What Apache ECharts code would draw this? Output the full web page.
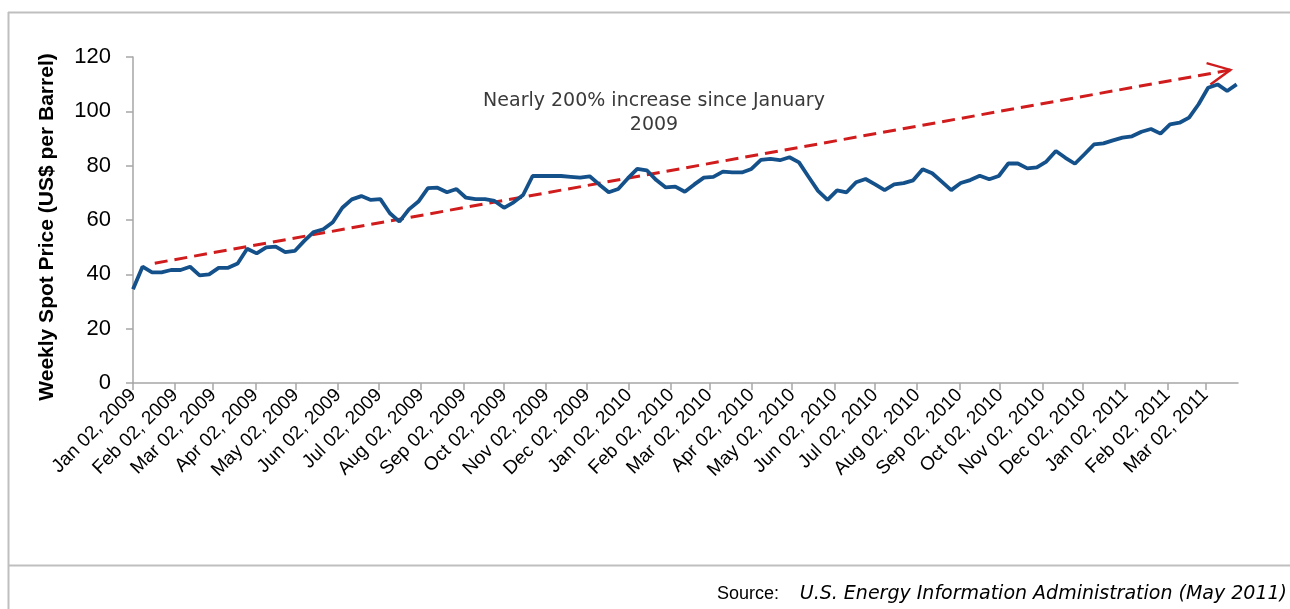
<!DOCTYPE html>
<html>
<head>
<meta charset="utf-8">
<script src="https://cdn.jsdelivr.net/npm/echarts@6/dist/echarts.min.js"></script>
<style>
html,body{margin:0;padding:0;background:#fff;}
#c{width:1290px;height:609px;}
</style>
</head>
<body>
<div id="c"></div>
<script>
// ---- data ----
const firstWeek = '2009-01-02';   // first weekly observation
const weekStepDays = 7;
const prices = [
  34.5, 42.8, 40.7, 40.7, 41.6, 41.6, 42.8, 39.6, 40.0, 42.4,
  42.4, 44.0, 49.4, 47.7, 49.9, 50.2, 48.2, 48.6, 52.3, 55.6,
  56.6, 59.2, 64.5, 67.6, 68.8, 67.4, 67.7, 62.5, 59.4, 63.9,
  66.8, 71.7, 71.9, 70.2, 71.4, 68.2, 67.7, 67.7, 67.0, 64.5,
  66.5, 69.2, 76.2, 76.2, 76.2, 76.2, 75.9, 75.6, 76.1, 73.1,
  70.2, 71.4, 75.3, 78.8, 78.3, 74.7, 72.0, 72.3, 70.4, 73.1,
  75.6, 75.9, 77.8, 77.5, 77.5, 78.8, 82.1, 82.5, 82.0, 83.1,
  81.2, 75.9, 70.7, 67.4, 70.9, 70.2, 73.9, 75.1, 73.1, 71.0,
  73.1, 73.6, 74.6, 78.7, 77.2, 74.1, 71.0, 73.6, 74.7, 76.3,
  75.0, 76.2, 80.8, 80.8, 79.0, 79.4, 81.5, 85.4, 82.9, 80.7,
  84.2, 87.8, 88.2, 89.3, 90.3, 90.8, 92.5, 93.5, 91.8, 95.2,
  95.8, 97.7, 102.6, 108.7, 109.9, 107.5, 109.9
];
const tickLabels = [
  'Jan 02, 2009','Feb 02, 2009','Mar 02, 2009','Apr 02, 2009','May 02, 2009','Jun 02, 2009',
  'Jul 02, 2009','Aug 02, 2009','Sep 02, 2009','Oct 02, 2009','Nov 02, 2009','Dec 02, 2009',
  'Jan 02, 2010','Feb 02, 2010','Mar 02, 2010','Apr 02, 2010','May 02, 2010','Jun 02, 2010',
  'Jul 02, 2010','Aug 02, 2010','Sep 02, 2010','Oct 02, 2010','Nov 02, 2010','Dec 02, 2010',
  'Jan 02, 2011','Feb 02, 2011','Mar 02, 2011'
];
const axisEndDate = '2011-03-25';
const yMin = 0, yMax = 120, yStep = 20;
// trend arrow annotation: [date, price]
const trendStart = ['2009-01-18', 44.1];
const trendEnd = ['2011-03-22', 115.4];
const yAxisTitle = 'Weekly Spot Price (US$ per Barrel)';
const noteText = 'Nearly 200% increase since January\n2009';
const sourceLabel = 'Source:';
const sourceText = 'U.S. Energy Information Administration (May 2011)';

// ---- helpers ----
const MONTHS = {Jan:0,Feb:1,Mar:2,Apr:3,May:4,Jun:5,Jul:6,Aug:7,Sep:8,Oct:9,Nov:10,Dec:11};
function isoToUTC(s){ const p = s.split('-').map(Number); return Date.UTC(p[0], p[1]-1, p[2]); }
const t0 = isoToUTC(firstWeek);
function dayOf(iso){ return Math.round((isoToUTC(iso) - t0) / 864e5); }
function labelDay(lbl){
  const m = lbl.match(/^(\w{3}) (\d{2}), (\d{4})$/);
  return Math.round((Date.UTC(+m[3], MONTHS[m[1]], +m[2]) - t0) / 864e5);
}
const tickDays = tickLabels.map(labelDay);
const labelByDay = {};
tickLabels.forEach((l, i) => { labelByDay[tickDays[i]] = l; });
const seriesData = prices.map((p, i) => [i * weekStepDays, p]);

const FONT = '"Liberation Sans", Arial, sans-serif';
const AXIS_GRAY = '#a6a6a6';
const chevron = 'path://M-10,20 L0,0 L10,20 L8.2,20.9 L0,4.4 L-8.2,20.9 Z M0,-20 L0.05,-20 L0,-20.05 Z';

const chart = echarts.init(document.getElementById('c'), null, {renderer: 'canvas'});
chart.setOption({
  animation: false,
  backgroundColor: '#fff',
  grid: {left: 133, right: 52, top: 57, bottom: 226, containLabel: false},
  xAxis: {
    type: 'value',
    min: 0,
    max: dayOf(axisEndDate) + 1,
    axisLine: {show: true, lineStyle: {color: AXIS_GRAY, width: 1.5}},
    axisTick: {show: true, customValues: tickDays, length: 7, lineStyle: {color: AXIS_GRAY, width: 1.5}},
    axisLabel: {
      customValues: tickDays,
      formatter: v => labelByDay[v] || '',
      rotate: 45,
      fontSize: 19,
      fontFamily: FONT,
      color: '#000',
      margin: 9
    },
    splitLine: {show: false}
  },
  yAxis: {
    type: 'value',
    min: yMin, max: yMax, interval: yStep,
    axisLine: {show: true, lineStyle: {color: AXIS_GRAY, width: 1.5}},
    axisTick: {show: true, length: 7, lineStyle: {color: AXIS_GRAY, width: 1.5}},
    axisLabel: {fontSize: 22, fontFamily: FONT, color: '#000', margin: 22},
    splitLine: {show: false}
  },
  series: [{
    type: 'line',
    data: seriesData,
    showSymbol: false,
    symbol: 'none',
    lineStyle: {color: '#14508a', width: 3.8},
    z: 3,
    markLine: {
      silent: true,
      z: 2,
      label: {show: false},
      lineStyle: {color: '#d01c1c', width: 3, type: [13, 7]},
      data: [[
        {coord: [dayOf(trendStart[0]), trendStart[1]], symbol: 'none'},
        {coord: [dayOf(trendEnd[0]), trendEnd[1]], symbol: chevron, symbolSize: [24, 50]}
      ]]
    }
  }],
  graphic: [
    {type: 'line', silent: true, shape: {x1: 8.5, y1: 12, x2: 8.5, y2: 609}, style: {stroke: '#bfbfbf', lineWidth: 2}},
    {type: 'line', silent: true, shape: {x1: 8, y1: 12.5, x2: 1290, y2: 12.5}, style: {stroke: '#bfbfbf', lineWidth: 2}},
    {type: 'line', silent: true, shape: {x1: 8, y1: 565.5, x2: 1290, y2: 565.5}, style: {stroke: '#bfbfbf', lineWidth: 2}},
    {type: 'text', silent: true, x: 47, y: 227, rotation: Math.PI / 2,
     style: {text: yAxisTitle, font: 'bold 21px "Liberation Sans", Arial, sans-serif', fill: '#000', align: 'center', textAlign: 'center', verticalAlign: 'middle', textVerticalAlign: 'middle'}},
    {type: 'text', silent: true, x: 654, y: 89,
     style: {text: noteText, font: '19px "DejaVu Sans", sans-serif', fill: '#3a3a3a', align: 'center', textAlign: 'center', verticalAlign: 'top', textVerticalAlign: 'top', lineHeight: 24}},
    {type: 'text', silent: true, x: 717, y: 594,
     style: {text: sourceLabel, font: '18px "Liberation Sans", Arial, sans-serif', fill: '#000', align: 'left', verticalAlign: 'middle', textVerticalAlign: 'middle'}},
    {type: 'text', silent: true, x: 1287, y: 594,
     style: {text: sourceText, font: 'italic 19px "DejaVu Sans", sans-serif', fill: '#000', align: 'right', textAlign: 'right', verticalAlign: 'middle', textVerticalAlign: 'middle'}}
  ]
});
</script>
</body>
</html>
